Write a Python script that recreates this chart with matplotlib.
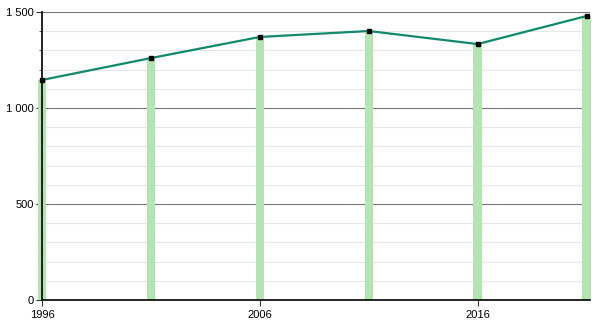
import matplotlib.pyplot as plt
from matplotlib.ticker import FuncFormatter, MultipleLocator

years = [1996, 2001, 2006, 2011, 2016, 2021]
values = [1146, 1260, 1370, 1401, 1333, 1479]
xticks = [1996, 2006, 2016]

plt.rcParams['font.family'] = ['Liberation Sans', 'DejaVu Sans']

fig = plt.figure(figsize=(6, 3.2), dpi=100)
ax = fig.add_axes([0.07, 0.0625, 0.913, 0.9])

# bars under the line
bars = ax.bar(years, values, width=0.38, color='#b5e3b1', zorder=1)
for b in bars:
    b.set_clip_on(False)

ax.plot(years, values, color='#0f8a6c', lw=1.6, zorder=3)
ax.plot(years, values, 's', color='black', ms=3.5, zorder=4, clip_on=False)

ax.set_xlim(1996, 2021.15)
ax.set_ylim(0, 1500)
ax.set_xticks(xticks)
ax.set_yticks([0, 500, 1000, 1500])
ax.yaxis.set_minor_locator(MultipleLocator(100))
ax.yaxis.set_major_formatter(FuncFormatter(lambda v, p: f'{int(v):,}'.replace(',', ' ')))

ax.grid(axis='y', which='major', color='#777777', lw=0.8, zorder=0)
ax.grid(axis='y', which='minor', color='#e8e8e8', lw=0.8, zorder=0)
ax.set_axisbelow(True)

for s in ['top', 'right']:
    ax.spines[s].set_visible(False)
for s in ['left', 'bottom']:
    ax.spines[s].set_color('black')
    ax.spines[s].set_linewidth(1.2)
    ax.spines[s].set_zorder(5)

ax.tick_params(axis='both', which='major', labelsize=8, length=4, width=0.8, color='#333333')
ax.tick_params(axis='y', which='minor', length=2.5, width=0.6, color='#333333')
ax.tick_params(axis='y', pad=2)
ax.tick_params(axis='x', pad=3)

fig.savefig('out.png', dpi=100)
